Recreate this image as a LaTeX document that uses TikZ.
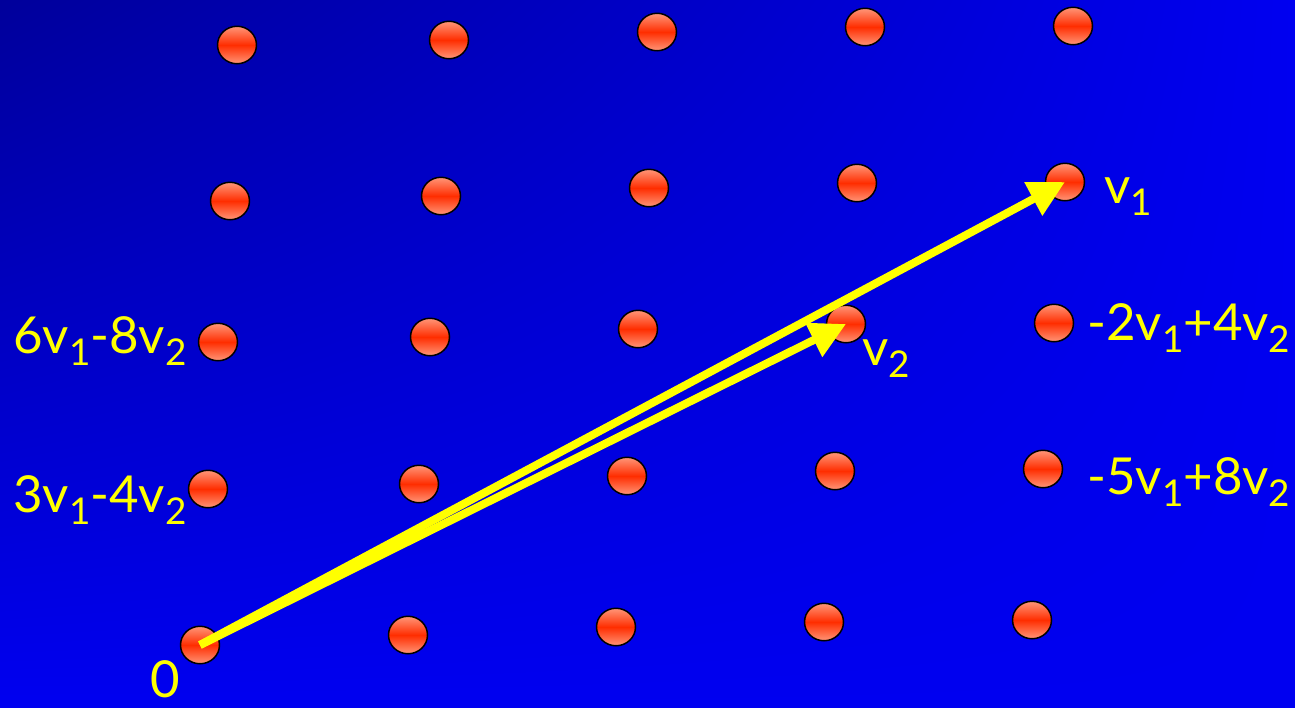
\documentclass[tikz,border=0pt]{standalone}
\usepackage{fontspec}
\setmainfont{Lato}
\usetikzlibrary{arrows.meta,shapes.geometric,shadings}
\definecolor{navy}{RGB}{0,0,155}
\definecolor{brightblue}{RGB}{0,0,240}
\definecolor{dotlight}{RGB}{255,150,120}
\definecolor{dotred}{RGB}{255,45,0}
\definecolor{vecyellow}{RGB}{255,255,0}
\newcommand{\lsub}[1]{\raisebox{-0.24cm}{\fontsize{21}{21}\selectfont #1}}

\begin{document}
\begin{tikzpicture}[
    x=0.02cm, y=-0.02cm,
    dot/.style={ellipse, draw=black, line width=0.85pt, minimum width=0.78cm, minimum height=0.75cm, inner sep=0pt, top color=dotlight, bottom color=dotlight, middle color=dotred},
    vec/.style={-{Triangle[length=0.72cm,width=0.72cm]}, line width=0.16cm, vecyellow},
    lbl/.style={text=vecyellow, font=\fontsize{29}{29}\selectfont, inner sep=0pt}
]

% Background
\shade[upper left=navy, upper right=brightblue, lower left=brightblue, lower right=brightblue] (0,0) rectangle (1295,707);

% Lattice points, top row
\node[dot] (a1) at (237,45) {};
\node[dot] (a2) at (449,40) {};
\node[dot] (a3) at (657,32) {};
\node[dot] (a4) at (865,27) {};
\node[dot] (a5) at (1073,26) {};

% second row
\node[dot] (b1) at (230,201) {};
\node[dot] (b2) at (441,196) {};
\node[dot] (b3) at (649,188) {};
\node[dot] (b4) at (857,183) {};
\node[dot] (b5) at (1065,182) {};

% third row
\node[dot] (c1) at (218,342) {};
\node[dot] (c2) at (430,337) {};
\node[dot] (c3) at (638,329) {};
\node[dot] (c4) at (846,324) {};
\node[dot] (c5) at (1054,323) {};

% fourth row
\node[dot] (d1) at (208,489) {};
\node[dot] (d2) at (419,484) {};
\node[dot] (d3) at (627,476) {};
\node[dot] (d4) at (835,471) {};
\node[dot] (d5) at (1043,469) {};

% bottom row
\node[dot] (e1) at (200,645) {};
\node[dot] (e2) at (408,635) {};
\node[dot] (e3) at (616,627) {};
\node[dot] (e4) at (824,622) {};
\node[dot] (e5) at (1032,620) {};

% Basis vectors
\draw[vec] (e1.center) -- (b5.center);
\draw[vec] (e1.center) -- (c4.center);

% Labels
\node[lbl, anchor=base west] (lv1) at (1104,203) {v\lsub{1}};
\node[lbl, anchor=base west] (lv2) at (862,365) {v\lsub{2}};
\node[lbl, anchor=base east] (l68) at (187,353) {6v\lsub{1}-8v\lsub{2}};
\node[lbl, anchor=base east] (l34) at (187,512) {3v\lsub{1}-4v\lsub{2}};
\node[lbl, anchor=base west] (l24) at (1087,340) {-2v\lsub{1}+4v\lsub{2}};
\node[lbl, anchor=base west] (l58) at (1087,494) {-5v\lsub{1}+8v\lsub{2}};
\node[lbl, anchor=base] (l0) at (165,697) {0};

\end{tikzpicture}
\end{document}
